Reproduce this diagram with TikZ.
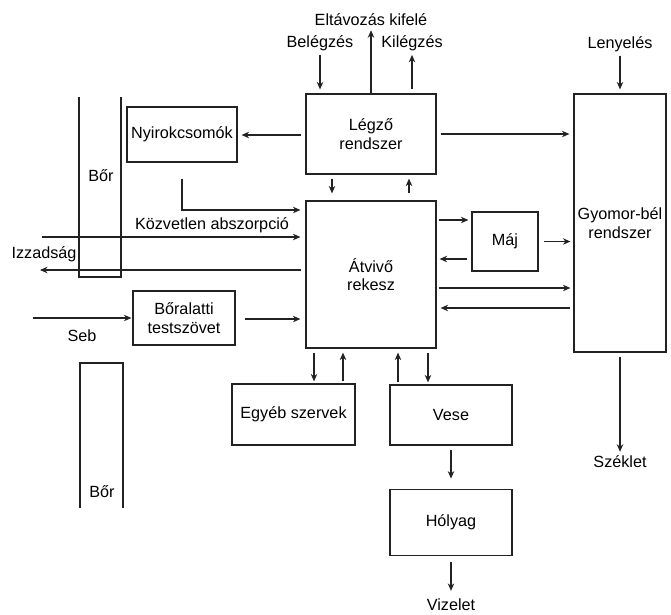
\documentclass[tikz,border=0pt]{standalone}
\usepackage{fontspec}
\setmainfont{Liberation Sans}
\usetikzlibrary{arrows.meta, positioning, calc}
\definecolor{organInk}{RGB}{34,34,34}

\begin{document}
\begin{tikzpicture}[x=1pt, y=-1pt,
    every node/.style={font=\fontsize{16.2}{18.5}\selectfont, text=black},
    organ/.style={draw=organInk, line width=1.2pt, inner sep=0pt, align=center},
    label/.style={inner sep=0pt, align=center},
    flow/.style={-{Stealth[length=7.5pt, width=6.5pt]}, line width=1.1pt, draw=organInk,
    shorten <=4pt, shorten >=4pt},
    skin/.style={draw=organInk, line width=1.1pt}
  ]
  \useasboundingbox (0,0) rectangle (671,614);

  \node[organ, minimum width=130pt, minimum height=80pt] (legzo) at (371,134) {Légző\\rendszer};
  \node[organ, minimum width=130pt, minimum height=147pt] (atvivo) at (371,274.5) {Átvivő\\rekesz};
  \node[organ, minimum width=110pt, minimum height=55pt] (nyirok) at (182,134.5) {Nyirokcsomók};
  \node[organ, minimum width=102pt, minimum height=54pt] (boralatti) at (184,318) {Bőralatti\\testszövet};
  \node[organ, minimum width=66pt, minimum height=59pt] (maj) at (505,241.5) {Máj};
  \node[organ, minimum width=92pt, minimum height=258pt] (gyomor) at (620,223) {Gyomor-bél\\rendszer};
  \node[organ, minimum width=123pt, minimum height=61pt] (egyeb) at (293.5,414.5) {Egyéb szervek};
  \node[organ, minimum width=122pt, minimum height=60pt] (vese) at (451,415) {Vese};
  \node[organ, minimum width=122pt, minimum height=66pt, below=43pt of vese] (holyag) {Hólyag};

  \draw[skin] (79,97) -- (79,277) -- (121,277) -- (121,97);
  \draw[skin] (80,508) -- (80,363) -- (123,363) -- (123,508);
  \node[label] (borfent) at (101,176) {Bőr};
  \node[label] (borlent) at (102,492) {Bőr};

  \node[label] (belegzes) at (320,43) {Belégzés};
  \node[label] (eltavozas) at (371,20) {Eltávozás kifelé};
  \node[label] (kilegzes) at (412,43) {Kilégzés};
  \node[label] (lenyeles) at (620,44) {Lenyelés};
  \node[label] (szeklet) at (620,462) {Széklet};
  \node[label] (vizelet) at (451,605) {Vizelet};
  \node[label] (kozvetlen) at (212,225) {Közvetlen abszorpció};
  \node[label] (izzadsag) at (44,254) {Izzadság};
  \node[label] (seb) at (82,336) {Seb};
  \coordinate (kozvetlenbe) at (42,237);
  \coordinate (izzadsagki) at (40,270);
  \coordinate (sebbe) at (33,318);

  \draw[flow] (belegzes) -- (legzo.north -| belegzes);
  \draw[flow, shorten <=0pt] (legzo.north) -- (eltavozas);
  \draw[flow] (legzo.north -| kilegzes) -- (kilegzes);
  \draw[flow] (lenyeles) -- (gyomor.north);
  \draw[flow] (gyomor.south) -- (szeklet);

  \draw[flow] (legzo.west |- 0,135) -- (nyirok.east |- 0,135);
  \draw[flow] (legzo.east |- 0,134) -- (gyomor.west |- 0,134);
  \draw[flow, shorten >=7pt] (legzo.south -| 332,0) -- (atvivo.north -| 332,0);
  \draw[flow, shorten <=7pt] (atvivo.north -| 409,0) -- (legzo.south -| 409,0);

  \draw[flow, shorten <=16pt, shorten >=5pt] (nyirok.south) |- (atvivo.west |- 0,210);
  \draw[flow, shorten <=0pt, shorten >=5pt] (kozvetlenbe) -- (atvivo.west |- kozvetlenbe);
  \draw[flow, shorten >=0pt] (atvivo.west |- izzadsagki) -- (izzadsagki);
  \draw[flow, shorten <=0pt, shorten >=1pt] (sebbe) -- (boralatti.west |- sebbe);
  \draw[flow, shorten <=9pt, shorten >=5pt] (boralatti.east |- 0,319) -- (atvivo.west |- 0,319);

  \draw[flow, shorten <=2pt, shorten >=3pt] (atvivo.east |- 0,220) -- (maj.west |- 0,220);
  \draw[flow, shorten >=3pt] (maj.west |- 0,259) -- (atvivo.east |- 0,259);
  \draw[flow, shorten <=5pt, shorten >=3pt] (maj.east) -- (maj.east -| gyomor.west);
  \draw[flow, shorten <=2pt, shorten >=3pt] (atvivo.east |- 0,288) -- (gyomor.west |- 0,288);
  \draw[flow, shorten <=3pt] (gyomor.west |- 0,308) -- (atvivo.east |- 0,308);

  \draw[flow, shorten >=2pt] (atvivo.south -| 314,0) -- (egyeb.north -| 314,0);
  \draw[flow, shorten <=2pt] (egyeb.north -| 343,0) -- (atvivo.south -| 343,0);
  \draw[flow, shorten <=2pt] (vese.north -| 398,0) -- (atvivo.south -| 398,0);
  \draw[flow, shorten >=2pt] (atvivo.south -| 428,0) -- (vese.north -| 428,0);
  \draw[flow, shorten >=10pt] (vese) -- (holyag);
  \draw[flow, shorten <=6pt, shorten >=8pt] (holyag) -- (vizelet);
\end{tikzpicture}
\end{document}
